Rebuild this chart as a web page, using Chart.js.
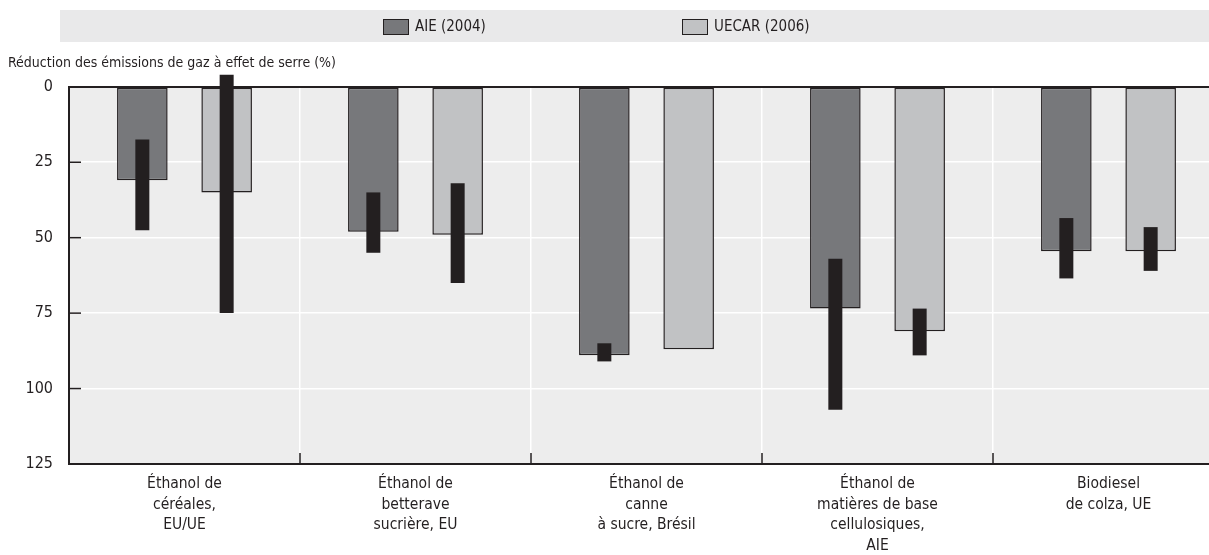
<!DOCTYPE html>
<html>
<head>
<meta charset="utf-8">
<script src="https://cdn.jsdelivr.net/npm/chart.js@4.4.1/dist/chart.umd.min.js"></script>
<style>
  html, body { margin: 0; padding: 0; background: #ffffff; overflow: hidden; }
  /* the plot runs a little past the right edge of the window, as in the original */
  #wrap { width: 1224px; height: 555px; }
</style>
</head>
<body>
<div id="wrap"><canvas id="bar-chart"></canvas></div>
<script>
var categories = [
    ["Éthanol de", "céréales,", "EU/UE"],
    ["Éthanol de", "betterave", "sucrière, EU"],
    ["Éthanol de", "canne", "à sucre, Brésil"],
    ["Éthanol de", "matières de base", "cellulosiques,", "AIE"],
    ["Biodiesel", "de colza, UE"]
];
var seriesNames = ["AIE (2004)", "UECAR (2006)"];
var aie = [31, 48, 89, 73.5, 54.5];
var uecar = [35, 49, 87, 81, 54.5];
// ranges (min / max) shown as black bars
var aieRange = [[17.5, 47.5], [35, 55], [85, 91], [57, 107], [43.5, 63.5]];
var uecarRange = [[-4, 75], [32, 65], null, [73.5, 89], [46.5, 61]];
var yTicks = [0, 25, 50, 75, 100, 125];
var yTitle = "Réduction des émissions de gaz à effet de serre (%)";

var FONT = "'Liberation Sans Narrow', 'Arial Narrow', 'DejaVu Sans Condensed', sans-serif";
var INK = "#231f20";
var colors = ["#77787b", "#c1c2c4"];

var decor = {
    id: "decor",
    beforeDraw: function (chart) {
        var c = chart.ctx, a = chart.chartArea;
        c.save();
        // legend band
        c.fillStyle = "#e9e9ea";
        c.fillRect(60, 10, chart.width - 60, 32);
        var boxX = [383, 682];
        c.font = "15px " + FONT;
        c.textBaseline = "middle";
        for (var i = 0; i < 2; i++) {
            c.fillStyle = colors[i];
            c.fillRect(boxX[i], 19, 25, 15);
            c.strokeStyle = INK;
            c.lineWidth = 1;
            c.strokeRect(boxX[i] + 0.5, 19.5, 25, 15);
            c.fillStyle = INK;
            c.fillText(seriesNames[i], boxX[i] + 32, 27);
        }
        // plot background
        c.fillStyle = "#ededed";
        c.fillRect(a.left, a.top, a.right - a.left, a.bottom - a.top);
        c.restore();
    },
    afterDatasetsDraw: function (chart) {
        var c = chart.ctx, a = chart.chartArea;
        var x = chart.scales.x, y = chart.scales.y;
        c.save();
        c.strokeStyle = INK;
        c.lineWidth = 1.5;
        [25, 50, 75, 100].forEach(function (v) {
            var py = y.getPixelForValue(v);
            c.beginPath();
            c.moveTo(a.left, py);
            c.lineTo(a.left + 12, py);
            c.stroke();
        });
        for (var i = 1; i < categories.length; i++) {
            var px = (x.getPixelForTick(i - 1) + x.getPixelForTick(i)) / 2;
            c.beginPath();
            c.moveTo(px, a.bottom - 11);
            c.lineTo(px, a.bottom);
            c.stroke();
        }
        c.restore();
    }
};

new Chart(document.getElementById("bar-chart"), {
    type: 'bar',
    data: {
        labels: categories,
        datasets: [
            {
                label: seriesNames[0] + " range",
                data: aieRange,
                backgroundColor: INK,
                stack: 'a',
                order: 0,
                maxBarThickness: 14,
                clip: false
            },
            {
                label: seriesNames[1] + " range",
                data: uecarRange,
                backgroundColor: INK,
                stack: 'b',
                order: 0,
                maxBarThickness: 14,
                clip: false
            },
            {
                label: seriesNames[0],
                data: aie,
                backgroundColor: colors[0],
                borderColor: INK,
                borderWidth: 1.5,
                borderSkipped: false,
                stack: 'a',
                order: 1
            },
            {
                label: seriesNames[1],
                data: uecar,
                backgroundColor: colors[1],
                borderColor: INK,
                borderWidth: 1.5,
                borderSkipped: false,
                stack: 'b',
                order: 1
            }
        ]
    },
    options: {
        responsive: true,
        maintainAspectRatio: false,
        animation: false,
        categoryPercentage: 0.73,
        barPercentage: 0.6,
        layout: { padding: { top: 44, left: 8, right: 0, bottom: 0 } },
        plugins: {
            legend: { display: false },
            tooltip: { enabled: false },
            title: {
                display: true,
                text: yTitle,
                align: 'start',
                color: INK,
                font: { family: FONT, size: 14, weight: 'normal', lineHeight: 1.2 },
                padding: { top: 11, bottom: 15 }
            }
        },
        scales: {
            x: {
                stacked: true,
                offset: true,
                grid: {
                    offset: true,
                    drawTicks: false,
                    lineWidth: 1.5,
                    color: function (ctx) { return ctx.index === 0 ? 'rgba(0,0,0,0)' : '#ffffff'; }
                },
                border: { display: true, color: INK, width: 2 },
                ticks: {
                    autoSkip: false,
                    maxRotation: 0,
                    padding: 10,
                    color: INK,
                    font: { family: FONT, size: 15.5, lineHeight: 1.32 }
                },
                afterFit: function (s) { s.height = 91; }
            },
            y: {
                stacked: false,
                reverse: true,
                min: 0,
                max: 125,
                afterBuildTicks: function (s) { s.ticks = yTicks.map(function (v) { return { value: v }; }); },
                grid: {
                    drawTicks: false,
                    lineWidth: function (ctx) { return ctx.tick && ctx.tick.value === 0 ? 2 : 1.5; },
                    color: function (ctx) {
                        if (!ctx.tick) return '#ffffff';
                        if (ctx.tick.value === 0) return INK;
                        if (ctx.tick.value === 125) return 'rgba(0,0,0,0)';
                        return '#ffffff';
                    }
                },
                border: { display: true, color: INK, width: 2 },
                ticks: {
                    padding: 16,
                    color: INK,
                    font: { family: FONT, size: 16 }
                },
                afterFit: function (s) { s.width = 61; }
            }
        }
    },
    plugins: [decor]
});
</script>
</body>
</html>
